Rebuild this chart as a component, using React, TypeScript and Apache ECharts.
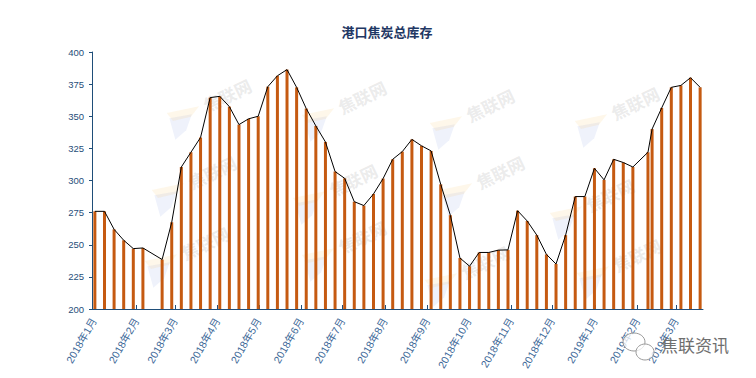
import React, { useEffect, useRef } from 'react';
import * as echarts from 'echarts';

// Weekly dates (2018-01 .. 2019-03)
const dates: string[] = [
  '2018-01-01', '2018-01-08', '2018-01-15', '2018-01-22', '2018-01-29', '2018-02-05',
  '2018-02-19', '2018-02-26', '2018-03-05', '2018-03-12', '2018-03-19', '2018-03-26',
  '2018-04-02', '2018-04-09', '2018-04-16', '2018-04-23', '2018-04-30', '2018-05-07',
  '2018-05-14', '2018-05-21', '2018-05-28', '2018-06-04', '2018-06-11', '2018-06-18',
  '2018-06-25', '2018-07-02', '2018-07-09', '2018-07-16', '2018-07-23', '2018-07-30',
  '2018-08-06', '2018-08-13', '2018-08-20', '2018-08-27', '2018-09-03', '2018-09-10',
  '2018-09-17', '2018-09-24', '2018-10-01', '2018-10-08', '2018-10-15', '2018-10-22',
  '2018-10-29', '2018-11-05', '2018-11-12', '2018-11-19', '2018-11-26', '2018-12-03',
  '2018-12-10', '2018-12-17', '2018-12-24', '2018-12-31', '2019-01-07', '2019-01-14',
  '2019-01-21', '2019-01-28', '2019-02-08', '2019-02-11', '2019-02-18', '2019-02-25',
  '2019-03-04', '2019-03-11', '2019-03-18',
];

// 港口焦炭总库存 (万吨)
const stock: number[] = [
  276, 276, 262, 253.5, 247, 247.5,
  238.5, 267.5, 310.5, 322, 333.5, 364.5,
  365.5, 357.5, 343.5, 348, 350, 373,
  381.5, 386.3, 372.5, 356, 342.5, 330,
  307, 301.7, 283.5, 280.5, 289.5, 301.5,
  316.5, 322.5, 332, 327, 323, 297,
  273, 239.7, 233.3, 244, 244, 245.8,
  246, 276.5, 268.5, 257.5, 242.5, 235,
  257.5, 287.5, 287.5, 309.5, 300.5, 316.5,
  314, 310.5, 322, 340, 356.5, 372.5,
  374, 380, 372.5,
];

const titleText = '港口焦炭总库存';
const yMin = 200;
const yMax = 400;
const yStep = 25;
const axisStart = '2017-12-31';
const axisEnd = '2019-03-19';
const watermarkText = '焦联网';
const brandText = '焦联资讯';

// watermark anchor points (text centres)
const watermarkSpots: number[][] = [
  [227, 95], [212, 172], [205, 243],
  [362, 97], [353, 180], [362, 237],
  [490, 105], [500, 172], [485, 262],
  [635, 103], [610, 195], [637, 255],
];

function ts(d: string): number {
  return Date.parse(d + 'T12:00:00Z');
}

export default function App() {
  const ref = useRef<HTMLDivElement>(null);

  useEffect(() => {
    if (!ref.current) return;
    const chart = echarts.init(ref.current, null, { renderer: 'svg' });
    const data = dates.map((d, i) => [ts(d), stock[i]]);

    const axisColor = '#1F4E79';
    const graphics: any[] = [];

    watermarkSpots.forEach(([x, y]) => {
      graphics.push({
        type: 'group',
        x,
        y,
        rotation: Math.PI / 7,
        silent: true,
        z: 0,
        children: [
          {
            type: 'polygon',
            shape: { points: [[-62, -4], [-40, 2], [-52, 14], [-66, 18]] },
            style: { fill: 'rgba(120,150,220,0.12)' },
          },
          {
            type: 'polygon',
            shape: { points: [[-62, -10], [-30, -2], [-42, 4], [-60, 0]] },
            style: { fill: 'rgba(250,190,90,0.13)' },
          },
          {
            type: 'text',
            style: {
              text: watermarkText,
              x: 0,
              y: 0,
              align: 'center',
              verticalAlign: 'middle',
              fontSize: 17,
              fontWeight: 'bold',
              fontFamily: 'Noto Sans CJK SC',
              fill: 'rgba(190,190,190,0.3)',
            },
          },
        ],
      });
    });

    graphics.push(
      {
        type: 'text',
        x: 387,
        y: 31,
        style: {
          text: titleText,
          align: 'center',
          verticalAlign: 'middle',
          fontSize: 13,
          fontWeight: 'bold',
          fontFamily: 'Noto Sans CJK SC',
          fill: '#1F3864',
        },
        z: 10,
      },
      {
        type: 'ellipse',
        shape: { cx: 634, cy: 342, rx: 11, ry: 9 },
        style: { fill: 'rgba(255,255,255,0.75)', stroke: '#9a9a9a', lineWidth: 1 },
        z: 10,
      },
      {
        type: 'ellipse',
        shape: { cx: 645, cy: 352, rx: 9, ry: 8 },
        style: { fill: 'rgba(255,255,255,0.75)', stroke: '#9a9a9a', lineWidth: 1 },
        z: 10,
      },
      {
        type: 'text',
        x: 661,
        y: 344,
        style: {
          text: brandText,
          align: 'left',
          verticalAlign: 'middle',
          fontSize: 17,
          fontFamily: 'Noto Sans CJK SC',
          fill: '#6e6e6e',
        },
        z: 10,
      }
    );

    const option: any = {
      animation: false,
      useUTC: true,
      backgroundColor: '#ffffff',
      grid: { left: 92, right: 53, top: 52, bottom: 69 },
      xAxis: {
        type: 'time',
        min: ts(axisStart),
        max: ts(axisEnd),
        minInterval: 28 * 864e5,
        maxInterval: 31 * 864e5,
        axisLine: { show: true, lineStyle: { color: axisColor, width: 1 } },
        axisTick: { show: true, inside: true, length: 4, lineStyle: { color: axisColor } },
        axisLabel: {
          rotate: 60,
          formatter: '{yyyy}年{M}月',
          color: '#3B6797',
          fontSize: 10.5,
          fontFamily: 'Liberation Sans, Noto Sans CJK SC',
          margin: 10,
          showMinLabel: false,
          showMaxLabel: false,
          hideOverlap: false,
        },
        splitLine: { show: false },
      },
      yAxis: {
        type: 'value',
        min: yMin,
        max: yMax,
        interval: yStep,
        axisLine: { show: true, lineStyle: { color: axisColor, width: 1 } },
        axisTick: { show: true, inside: false, length: 3, lineStyle: { color: axisColor } },
        axisLabel: {
          color: '#1F4E79',
          fontSize: 9.5,
          fontFamily: 'Liberation Sans',
          margin: 8,
        },
        splitLine: { show: false },
      },
      series: [
        {
          type: 'bar',
          data,
          barWidth: 3,
          itemStyle: { color: '#C55A11' },
          z: 2,
        },
        {
          type: 'line',
          data,
          symbol: 'none',
          lineStyle: { color: '#000000', width: 1 },
          z: 3,
        },
      ],
      graphic: graphics,
    };

    chart.setOption(option);
    return () => chart.dispose();
  }, []);

  return (
    <div
      ref={ref}
      style={{ position: 'fixed', left: 0, top: 0, width: 756, height: 378 }}
    />
  );
}
